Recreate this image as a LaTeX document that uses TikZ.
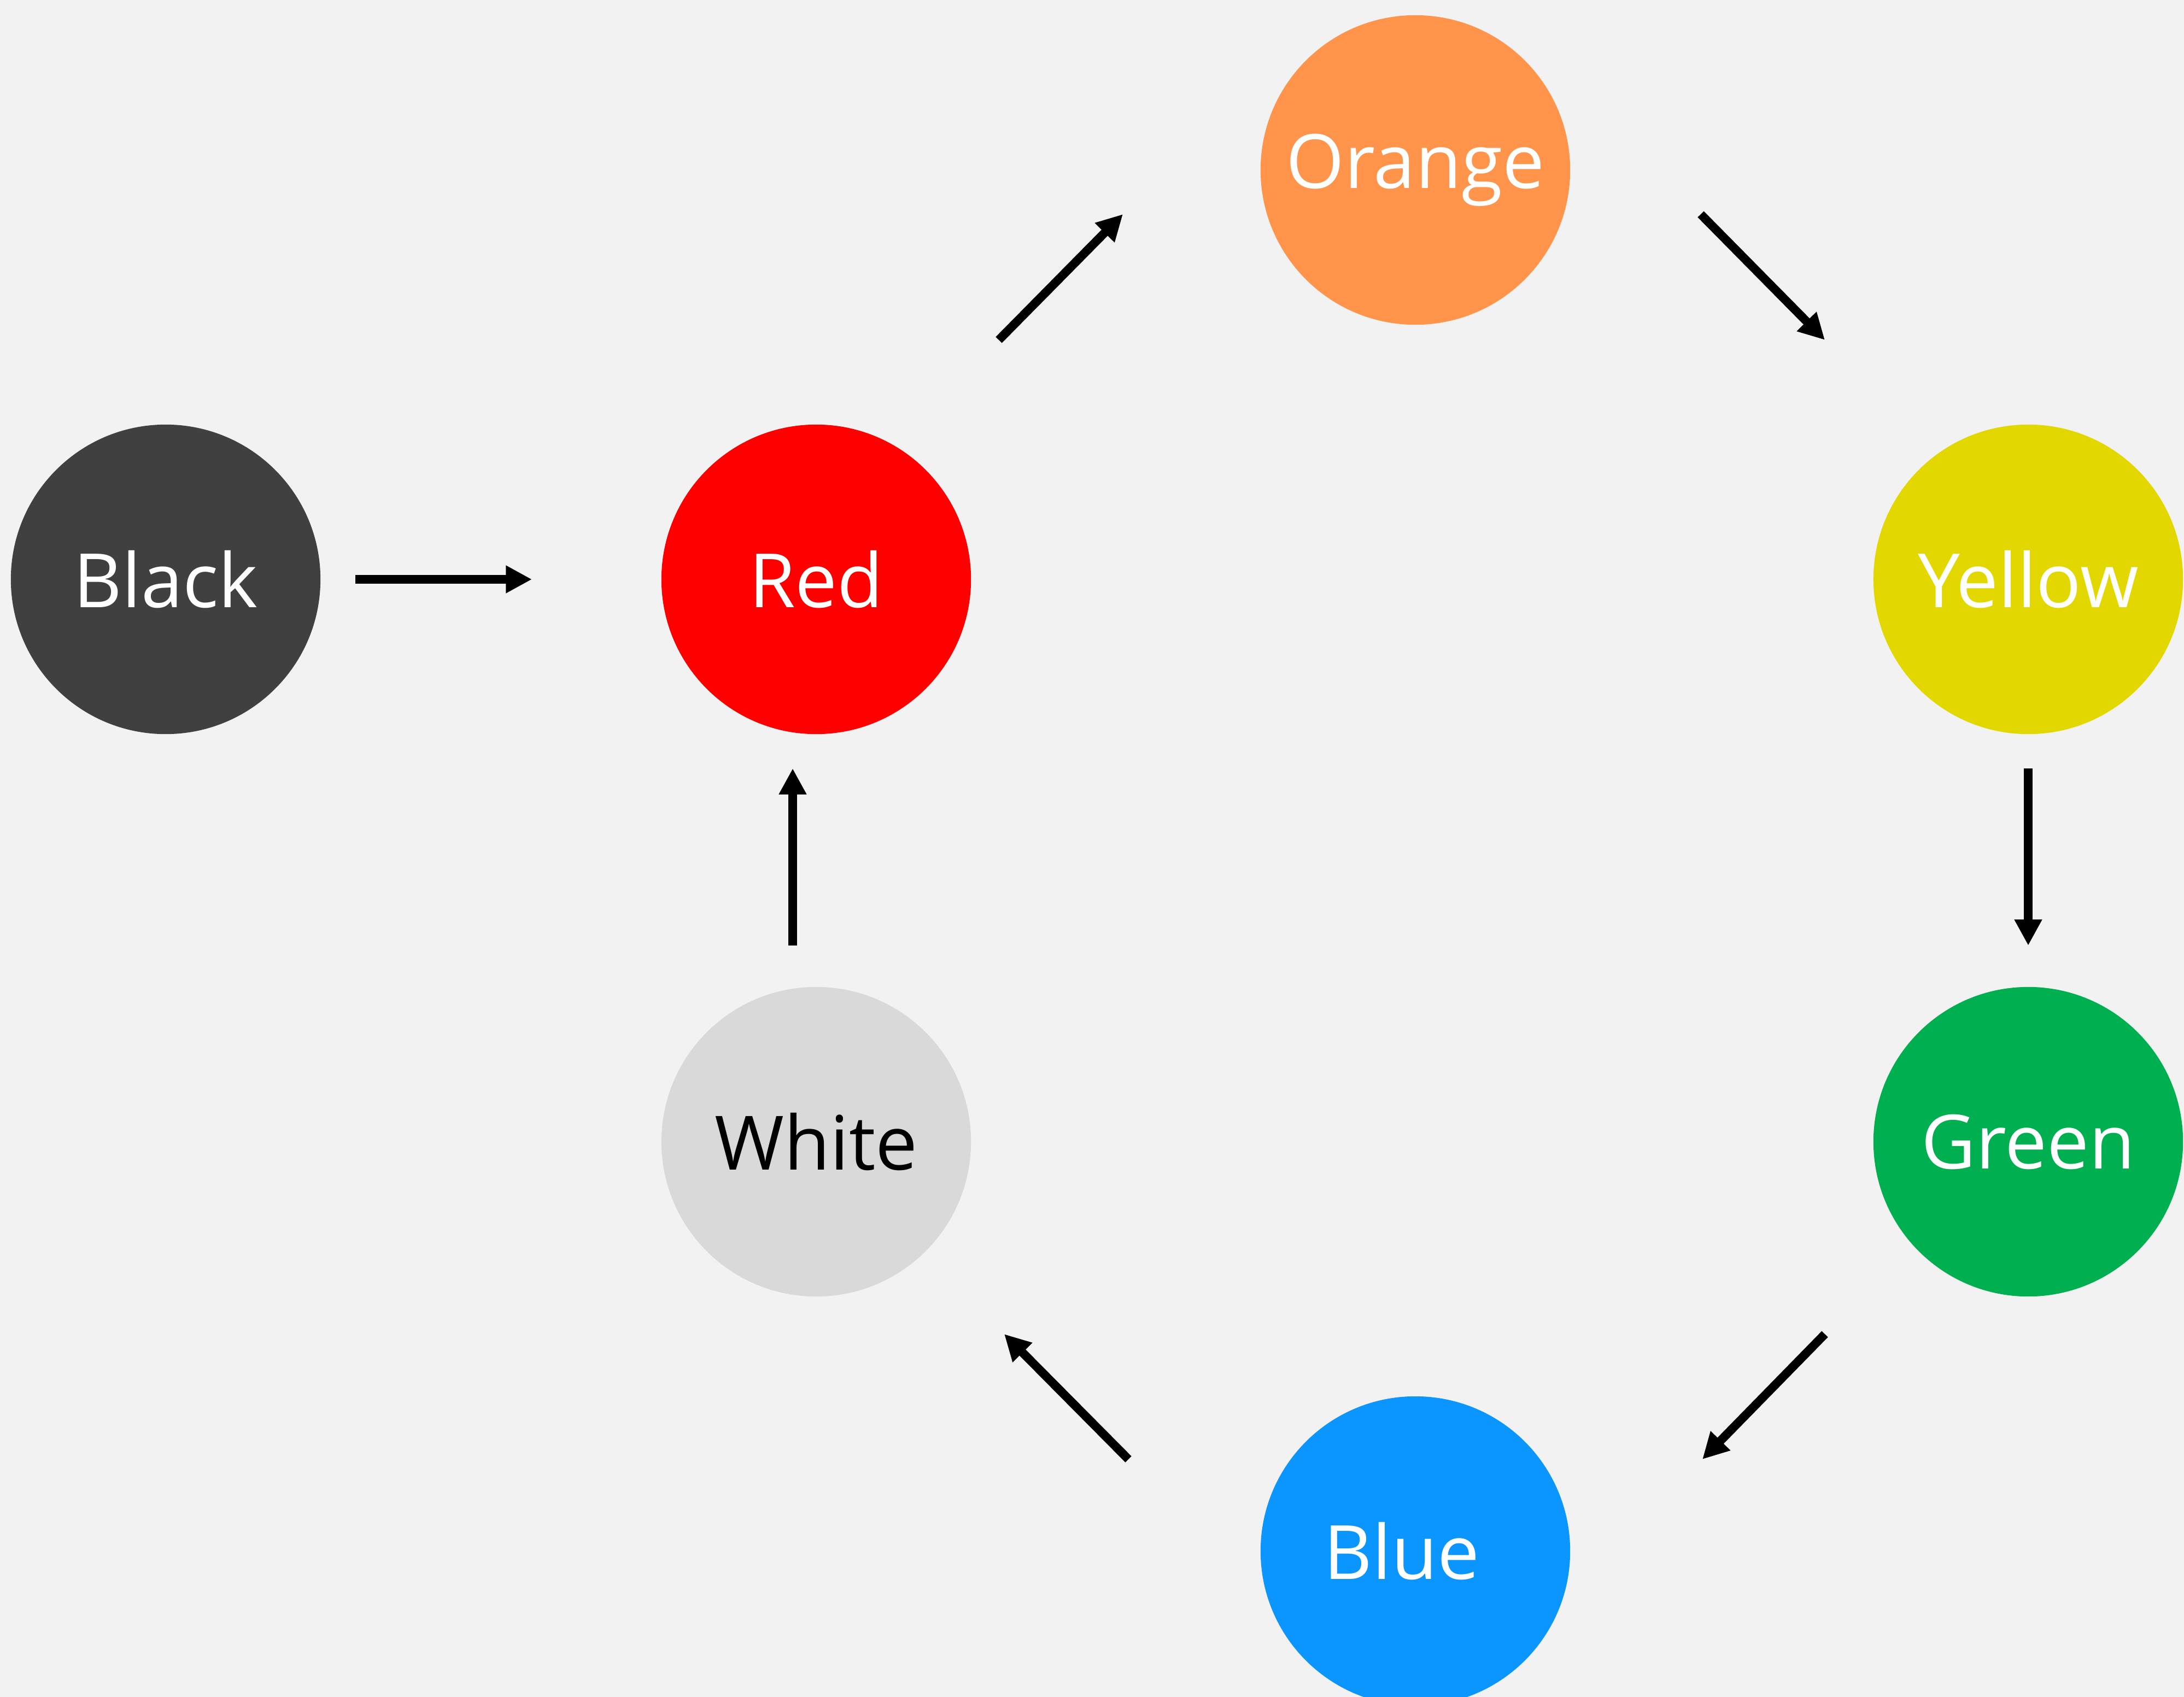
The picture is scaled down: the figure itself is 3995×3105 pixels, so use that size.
\documentclass[tikz,border=0pt]{standalone}
\usepackage{fontspec}
\setmainfont{Open Sans}
\usetikzlibrary{arrows.meta}
\definecolor{bgcol}{HTML}{F2F2F2}
\definecolor{blackcol}{HTML}{404040}
\definecolor{redcol}{HTML}{FF0000}
\definecolor{orangecol}{HTML}{FF944A}
\definecolor{yellowcol}{HTML}{E2D800}
\definecolor{greencol}{HTML}{00B050}
\definecolor{bluecol}{HTML}{0B96FF}
\definecolor{whitecol}{HTML}{D9D9D9}
\tikzset{
  colnode/.style={circle, minimum size=2.264cm, inner sep=0pt, text=white,
    font=\fontsize{15.6}{19}\selectfont},
  arr/.style={-{Triangle[length=1.9mm,width=1.9mm]}, line width=1.8pt}
}
\begin{document}
\begin{tikzpicture}[x=0.004cm, y=-0.004cm]
\clip (0,0) rectangle (3995,3105);
\fill [bgcol] (0,0) rectangle (3995,3105);
% colour circles
\node [colnode, fill=blackcol]  (black)  at (303,1060)  {Black};
\node [colnode, fill=redcol]    (red)    at (1493,1060) {Red};
\node [colnode, fill=orangecol] (orange) at (2589,311)  {Orange};
\node [colnode, fill=yellowcol] (yellow) at (3710,1060) {Yellow};
\node [colnode, fill=greencol]  (green)  at (3710,2089) {Green};
\node [colnode, fill=bluecol]   (blue)   at (2589,2838) {Blue\rule{0.2cm}{0pt}};
\node [colnode, fill=whitecol, text=black] (white) at (1493,2089) {White};
% arrow ends
\coordinate (bk1) at (650,1060);  \coordinate (bk2) at (973,1060);
\coordinate (rd1) at (1827,622);  \coordinate (rd2) at (2054,392);
\coordinate (or1) at (3111,392);  \coordinate (or2) at (3338,622);
\coordinate (ye1) at (3710,1406); \coordinate (ye2) at (3710,1730);
\coordinate (gr1) at (3338,2441); \coordinate (gr2) at (3114,2670);
\coordinate (bl1) at (2064,2670); \coordinate (bl2) at (1837,2441);
\coordinate (wh1) at (1450,1730); \coordinate (wh2) at (1450,1406);
% arrows
\draw [arr] (bk1) -- (bk2);
\draw [arr] (rd1) -- (rd2);
\draw [arr] (or1) -- (or2);
\draw [arr] (ye1) -- (ye2);
\draw [arr] (gr1) -- (gr2);
\draw [arr] (bl1) -- (bl2);
\draw [arr] (wh1) -- (wh2);
\end{tikzpicture}
\end{document}
